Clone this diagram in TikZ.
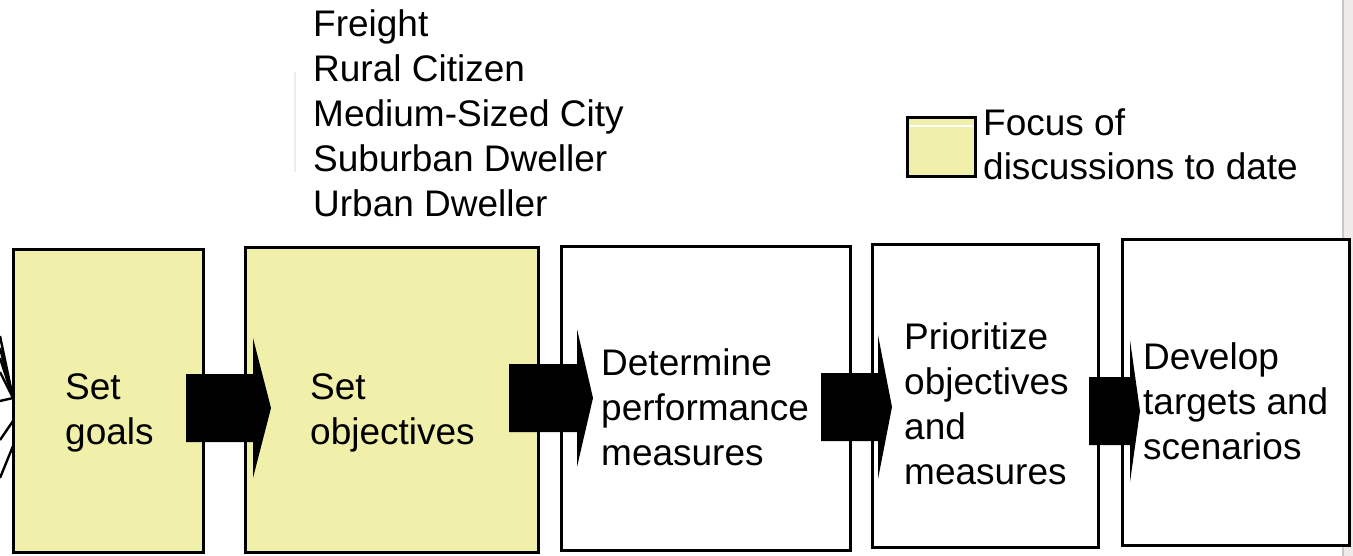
\documentclass[tikz,border=0pt]{standalone}
\usepackage{fontspec}
\setmainfont{Liberation Sans}
\definecolor{focusyellow}{RGB}{240,240,170}
\definecolor{stripgray}{RGB}{238,235,232}
\definecolor{stripedge}{RGB}{200,200,200}
\begin{document}
\begin{tikzpicture}[x=1pt,y=-1pt,
  box/.style={draw=black,line width=3pt,rectangle,inner sep=0pt,outer sep=0pt,fill=white},
  focus/.style={box,fill=focusyellow},
  lbl/.style={anchor=base west,inner sep=0pt,align=left,font=\fontsize{37}{45}\selectfont},
  blockarrow/.style={fill=black,draw=none},
  fan/.style={draw=black,line width=2.4pt}]
\useasboundingbox (0,0) rectangle (1353,556);
\fill[white] (0,0) rectangle (1353,556);
% right gray strip
\fill[stripgray] (1342,0) rectangle (1353,556);
\draw[stripedge,line width=2pt] (1343,0) -- (1343,556);
% faint line near list
\draw[black!7,line width=1.5pt] (295,72) -- (295,172);
% list of perspectives (anchor = baseline of last line)
\node[lbl] (list) at (313,217) {Freight\\Rural Citizen\\Medium-Sized City\\Suburban Dweller\\Urban Dweller};
% legend
\node[focus,minimum width=68pt,minimum height=59pt] (legend) at (941,147.5) {};
\draw[white,line width=1.2pt] (909.5,126) -- (972.5,126);
\node[lbl,font=\fontsize{37}{44}\selectfont] (legendtxt) at (983,180) {Focus of\\discussions to date};
% boxes
\node[focus,minimum width=190pt,minimum height=302pt] (b1) at (108,401) {};
\node[focus,minimum width=293pt,minimum height=304pt] (b2) at (391.5,400) {};
\node[box,minimum width=289pt,minimum height=303pt] (b3) at (705.5,398.5) {};
\node[box,minimum width=226pt,minimum height=302pt] (b4) at (985,396) {};
\node[box,minimum width=227pt,minimum height=305pt] (b5) at (1235.5,392.5) {};
% fan lines on the left
\coordinate (f0) at (13,398);
\draw[fan] (0,336) -- (f0);
\draw[fan] (0,348) -- (f0);
\draw[fan] (0,358) -- (f0);
\draw[fan] (0,372) -- (f0);
\draw[fan] (0,401) -- (f0);
\draw[fan] (0,440) -- (13,421);
\draw[fan] (0,478) -- (13,446);
% block arrows
\fill[blockarrow] (186,374) -- (253,374) -- (253,338) -- (271,408) -- (253,478) -- (253,442) -- (186,442) -- cycle;
\fill[blockarrow] (509,364) -- (577,364) -- (577,329) -- (593,398) -- (577,467) -- (577,432) -- (509,432) -- cycle;
\fill[blockarrow] (821,373) -- (878,373) -- (878,335) -- (892,407) -- (878,479) -- (878,441) -- (821,441) -- cycle;
\fill[blockarrow] (1089,377) -- (1130,377) -- (1130,340) -- (1140,411) -- (1130,482) -- (1130,445) -- (1089,445) -- cycle;
% box texts (anchor = baseline of last line)
\node[lbl] (t1) at (65,444) {Set\\goals};
\node[lbl] (t2) at (310,444) {Set\\objectives};
\node[lbl] (t3) at (601,465) {Determine\\performance\\measures};
\node[lbl] (t4) at (904,484) {Prioritize\\objectives\\and\\measures};
\node[lbl] (t5) at (1143,459) {Develop\\targets and\\scenarios};
\end{tikzpicture}
\end{document}
